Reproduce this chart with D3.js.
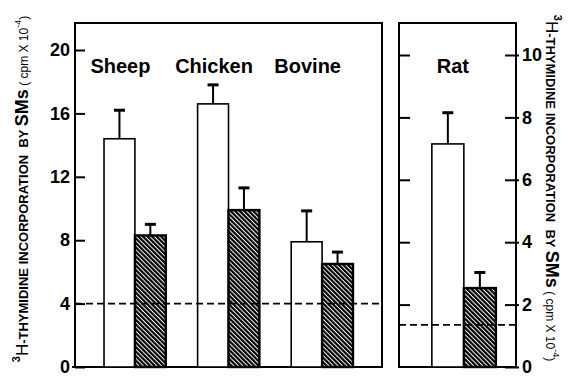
<!DOCTYPE html>
<html>
<head>
<meta charset="utf-8">
<script src="https://cdn.jsdelivr.net/npm/d3@7/dist/d3.min.js"></script>
<style>
  html, body { margin: 0; padding: 0; background: #fff; }
  svg { display: block; font-family: "Liberation Sans", Arial, Helvetica, sans-serif; }
  text { white-space: pre; }
</style>
</head>
<body>
<svg id="chart" width="569" height="379"></svg>
<script>
// ---- data ----
const categories = ["Sheep", "Chicken", "Bovine"];
const controlValues = [14.4, 16.6, 7.9];
const controlErrors = [1.8, 1.2, 1.95];
const treatedValues = [8.3, 9.9, 6.5];
const treatedErrors = [0.7, 1.4, 0.75];
const leftBaseline = [4];

const ratCategory = ["Rat"];
const ratControlValues = [7.15];
const ratControlErrors = [1.0];
const ratTreatedValues = [2.53];
const ratTreatedErrors = [0.5];
const rightBaseline = [1.35];

const leftTicks = [0, 4, 8, 12, 16, 20];
const rightTicks = [0, 2, 4, 6, 8, 10];
const series = ["control", "treated"];

// ---- layout ----
const svg = d3.select("#chart");
const plotTop = 23, plotBottom = 367;
const L = { x0: 75, x1: 382 };
const R = { x0: 399, x1: 516 };

// hatch pattern
const defs = svg.append("defs");
const pat = defs.append("pattern")
  .attr("id", "hatch").attr("patternUnits", "userSpaceOnUse")
  .attr("width", 3.2).attr("height", 10)
  .attr("patternTransform", "rotate(-45)");
pat.append("rect").attr("width", 3.2).attr("height", 10).attr("fill", "#fff");
pat.append("rect").attr("width", 2.2).attr("height", 10).attr("fill", "#000");

const yL = d3.scaleLinear().domain([0, 20]).range([plotBottom, 50]);
const yR = d3.scaleLinear().domain([0, 10]).range([plotBottom, 55]);

const xL = d3.scaleBand().domain(categories).range([L.x0, L.x1])
  .paddingInner(0.34).paddingOuter(0.31);
const xLi = d3.scaleBand().domain(series).range([0, xL.bandwidth()]);

const xR = d3.scaleBand().domain(ratCategory).range([R.x0, R.x1])
  .paddingInner(0).paddingOuter(0.414).align(0.62);
const xRi = d3.scaleBand().domain(series).range([0, xR.bandwidth()]);

function drawBars(g, cats, xO, xI, y, ctrl, ctrlErr, trt, trtErr) {
  const rows = [];
  cats.forEach((c, i) => {
    rows.push({ c, s: "control", v: ctrl[i], e: ctrlErr[i] });
    rows.push({ c, s: "treated", v: trt[i], e: trtErr[i] });
  });
  g.selectAll("rect.bar").data(rows).join("rect")
    .attr("class", "bar")
    .attr("x", d => xO(d.c) + xI(d.s))
    .attr("y", d => y(d.v))
    .attr("width", xI.bandwidth())
    .attr("height", d => y(0) - y(d.v))
    .attr("fill", d => d.s === "control" ? "#fff" : "url(#hatch)")
    .attr("stroke", "#000")
    .attr("stroke-width", d => d.s === "control" ? 1.6 : 2.4);
  const eb = g.selectAll("g.err").data(rows).join("g").attr("class", "err");
  eb.append("line")
    .attr("x1", d => xO(d.c) + xI(d.s) + xI.bandwidth() / 2)
    .attr("x2", d => xO(d.c) + xI(d.s) + xI.bandwidth() / 2)
    .attr("y1", d => y(d.v)).attr("y2", d => y(d.v + d.e))
    .attr("stroke", "#000").attr("stroke-width", 2);
  eb.append("line")
    .attr("x1", d => xO(d.c) + xI(d.s) + xI.bandwidth() / 2 - 5.5)
    .attr("x2", d => xO(d.c) + xI(d.s) + xI.bandwidth() / 2 + 5.5)
    .attr("y1", d => y(d.v + d.e)).attr("y2", d => y(d.v + d.e))
    .attr("stroke", "#000").attr("stroke-width", 3);
}

// ---- left panel ----
const gL = svg.append("g");
gL.append("rect").attr("x", L.x0).attr("y", plotTop)
  .attr("width", L.x1 - L.x0).attr("height", plotBottom - plotTop)
  .attr("fill", "none").attr("stroke", "#000").attr("stroke-width", 2);
gL.append("line").attr("x1", L.x0 - 3).attr("x2", L.x1).attr("y1", plotBottom).attr("y2", plotBottom)
  .attr("stroke", "#000").attr("stroke-width", 2);

const axL = gL.append("g").attr("transform", `translate(${L.x0},0)`)
  .call(d3.axisLeft(yL).tickValues(leftTicks).tickSize(-10).tickPadding(5).tickFormat(d3.format("d")));
axL.select(".domain").remove();
axL.selectAll(".tick line").attr("stroke-width", 2);
axL.selectAll(".tick text").attr("font-size", 18).attr("font-weight", "bold")
  .attr("font-family", "'Liberation Sans Narrow', 'Liberation Sans', Arial, sans-serif");

drawBars(gL, categories, xL, xLi, yL, controlValues, controlErrors, treatedValues, treatedErrors);

gL.selectAll("line.base").data(leftBaseline).join("line").attr("class", "base")
  .attr("x1", L.x0).attr("x2", L.x1)
  .attr("y1", d => yL(d)).attr("y2", d => yL(d))
  .attr("stroke", "#000").attr("stroke-width", 1.6).attr("stroke-dasharray", "7,4");

gL.selectAll("text.cat").data(categories).join("text").attr("class", "cat")
  .attr("x", d => xL(d) + xLi("control") + xLi.bandwidth() / 2 + 1)
  .attr("y", 73).attr("text-anchor", "middle")
  .attr("font-size", 20).attr("font-weight", "bold").text(d => d);

// ---- right panel ----
const gR = svg.append("g");
gR.append("rect").attr("x", R.x0).attr("y", plotTop)
  .attr("width", R.x1 - R.x0).attr("height", plotBottom - plotTop)
  .attr("fill", "none").attr("stroke", "#000").attr("stroke-width", 2);

const axRl = gR.append("g").attr("transform", `translate(${R.x0},0)`)
  .call(d3.axisLeft(yR).tickValues(rightTicks.slice(1)).tickSize(-11).tickFormat(""));
axRl.select(".domain").remove();
axRl.selectAll(".tick line").attr("stroke-width", 2);

const axRr = gR.append("g").attr("transform", `translate(${R.x1},0)`)
  .call(d3.axisRight(yR).tickValues(rightTicks).tickSize(-11).tickPadding(6).tickFormat(d3.format("d")));
axRr.select(".domain").remove();
axRr.selectAll(".tick line").attr("stroke-width", 2).attr("x2", -11).attr("x1", 3);
axRr.selectAll(".tick text").attr("font-size", 18).attr("font-weight", "bold")
  .attr("font-family", "'Liberation Sans Narrow', 'Liberation Sans', Arial, sans-serif");

drawBars(gR, ratCategory, xR, xRi, yR, ratControlValues, ratControlErrors, ratTreatedValues, ratTreatedErrors);

gR.selectAll("line.base").data(rightBaseline).join("line").attr("class", "base")
  .attr("x1", R.x0).attr("x2", R.x1 + 3)
  .attr("y1", d => yR(d)).attr("y2", d => yR(d))
  .attr("stroke", "#000").attr("stroke-width", 1.6).attr("stroke-dasharray", "7,4");

gR.selectAll("text.cat").data(ratCategory).join("text").attr("class", "cat")
  .attr("x", d => xR(d) + xRi("control") + xRi.bandwidth() / 2 + 5)
  .attr("y", 73).attr("text-anchor", "middle")
  .attr("font-size", 20).attr("font-weight", "bold").text(d => d);

// ---- axis titles ----
function title(x, y, rot) {
  const tx = svg.append("text")
    .attr("transform", `translate(${x},${y}) rotate(${rot})`)
    .attr("text-anchor", "middle").attr("fill", "#000");
  tx.append("tspan").attr("font-size", 11).attr("font-weight", "bold").attr("dy", -8).text("3");
  tx.append("tspan").attr("font-size", 17).attr("dy", 8).text("H");
  tx.append("tspan").attr("font-size", 13).attr("font-weight", "bold").text("-THYMIDINE INCORPORATION  BY ");
  tx.append("tspan").attr("font-size", 18).attr("font-weight", "bold").text("SMs");
  tx.append("tspan").attr("font-size", 12).text(" ( cpm X 10");
  tx.append("tspan").attr("font-size", 9).attr("dy", -7).text("-4");
  tx.append("tspan").attr("font-size", 12).attr("dy", 7).text(")");
}
title(28, 189, -90);
title(546, 188, 90);
</script>
</body>
</html>
